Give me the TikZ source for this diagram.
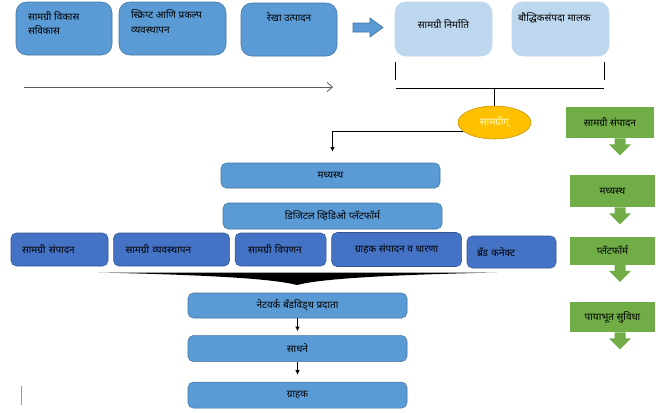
\documentclass[tikz,border=0pt]{standalone}
\usepackage{fontspec}
\setmainfont{Noto Sans}[Script=Devanagari]
\usetikzlibrary{arrows.meta, positioning, calc, shapes.geometric}
\definecolor{mediumblue}{HTML}{5B9BD5}
\definecolor{rowblue}{HTML}{4472C4}
\definecolor{paleblue}{HTML}{BDD7EE}
\definecolor{leafgreen}{HTML}{70AD47}
\definecolor{ambergold}{HTML}{FFC000}

\begin{document}
\begin{tikzpicture}[
    x=0.75pt, y=-0.75pt,
    tile/.style={
        draw=#1!75!black, fill=#1,
        rectangle, rounded corners=4pt,
        inner sep=0pt, align=center,
        font=\fontsize{7.5}{10}\selectfont,
    },
    dims/.style 2 args={minimum width=#1*0.75pt, minimum height=#2*0.75pt},
    note/.style={font=\fontsize{7.5}{11}\selectfont, align=left, inner sep=0pt},
    bar/.style={line width=1.1pt},
    link/.style={-{Latex[length=3.5pt,width=3.5pt]}, line width=0.9pt},
]
\useasboundingbox (0,0) rectangle (658,412);

% top row
\node[tile=mediumblue, dims={96}{53}, rounded corners=8pt,
    label={[note, anchor=north west, xshift=9pt, yshift=-7pt]north west:सामग्री विकास\\सविकास}] (vikas) at (64,28.5) {};
\node[tile=mediumblue, dims={107}{53}, rounded corners=8pt,
    label={[note, anchor=north west, xshift=9pt, yshift=-6pt]north west:स्क्रिप्ट आणि प्रकल्प\\व्यवस्थापन}] (script) at (172.5,28.5) {};
\node[tile=mediumblue, dims={96}{53}, rounded corners=8pt,
    label={[note, anchor=north, yshift=-7.5pt]north:रेखा उत्पादन}] (rekha) at (289,29.5) {};
\filldraw[fill=mediumblue, draw=mediumblue!75!black, line width=0.5pt]
    (353,23) -- (370,23) -- (370,18) -- (383,27.5) -- (370,37) -- (370,32) -- (353,32) -- cycle;
\node[tile=paleblue, draw=paleblue, dims={97}{54}, rounded corners=8pt,
    label={[note, anchor=north, yshift=-13pt]north:सामग्री निर्माति}] (nirm) at (443.5,29) {};
\node[tile=paleblue, draw=paleblue, dims={97}{54}, rounded corners=8pt,
    label={[note, anchor=north west, xshift=4.5pt, yshift=-8pt]north west:बौद्धिकसंपदा मालक}] (ipr) at (560.5,29) {};

% timeline
\coordinate (tl-start) at (24,87);
\coordinate (tl-end) at (333,87);
\draw[black!65, line width=0.6pt, -{Straight Barb[length=4pt,width=7pt]}] (tl-start) -- (tl-end);

% bracket
\draw[bar] ($(nirm.south west)+(1,6)$) coordinate (bl) -- ++(0,18);
\draw[bar] ($(ipr.south east)+(-5,6)$) coordinate (br) -- ++(0,18);
\draw[bar] ($(bl)+(0,26)$) coordinate (hl) -- ($(br)+(0,26)$);

\node[ellipse, fill=ambergold, draw=ambergold!75!black, dims={73}{33}, inner sep=0pt,
    font=\fontsize{7.5}{10}\selectfont, text=white!85!yellow] (samg) at (494.5,122.5) {सामग्रीग्};
\draw[bar] (samg.north) -- (samg.north |- hl);

% middle
\node[tile=mediumblue, dims={219}{25}] (madh) at (330.5,175.5) {मध्यस्थ};
\node[tile=mediumblue, dims={219}{26}] (dvp) at (332.5,216) {डिजिटल व्हिडिओ प्लॅटफॉर्म};
\draw[link] (samg.196) -| ($(madh.north)+(2,-11)$);

% row
\node[tile=rowblue, dims={97}{33}, text width=56.25pt, align=left] (ed1) at (59.5,249.5) {सामग्री संपादन};
\node[tile=rowblue, dims={116}{33}, text width=69pt, align=left, right=3.75pt of ed1] (ed2) {सामग्री व्यवस्थापन};
\node[tile=rowblue, dims={91}{33}, text width=48.75pt, align=left, right=3.75pt of ed2] (ed3) {सामग्री विपणन};
\node[tile=rowblue, dims={130}{34}, right=3.75pt of ed3] (ed4) {ग्राहक संपादन व धारणा};
\node[tile=rowblue, dims={89}{32}, text width=51.75pt, align=left] (ed5) at (511.5,252) {ब्रँड कनेक्ट};

\fill (98,272.5) -- (497,272.5) .. controls (380,275) and (320,279) .. (297,285)
    .. controls (274,279) and (214,275) .. (98,272.5) -- cycle;

% lower column
\node[tile=mediumblue, dims={219}{25}] (nbp) at (297.5,305.5) {नेटवर्क बँडविड्थ प्रदाता};
\node[tile=mediumblue, dims={219}{26}, below=12.75pt of nbp] (sadh) {साधने};
\node[tile=mediumblue, dims={219}{26}, below=15pt of sadh] (grahak) {ग्राहक};
\draw[link] (nbp.south) -- ($(sadh.north)+(0,-4)$);
\draw[link] (sadh.south) -- ($(grahak.north)+(0,-7)$);
\draw[black!40, line width=0.6pt] (21,386) -- (21,405);

% right column
\node[tile=leafgreen, draw=none, rounded corners=0pt, dims={88}{31}] (g1) at (610,122.5) {सामग्री संपादन};
\node[tile=leafgreen, draw=none, rounded corners=0pt, dims={85}{32}] (g2) at (612.5,191) {मध्यस्थ};
\node[tile=leafgreen, draw=none, rounded corners=0pt, dims={85}{28}] (g3) at (612.5,250.5) {प्लॅटफॉर्म};
\node[tile=leafgreen, draw=none, rounded corners=0pt, dims={85}{30}] (g4) at (612.5,317) {पायाभूत सुविधा};
\foreach \g in {g1,g2,g3,g4}
    \fill[leafgreen] (\g.south -| 620,0) ++(-5.5,0) -- ++(11,0) -- ++(0,6) -- ++(5.5,0)
        -- ++(-11,11) -- ++(-11,-11) -- ++(5.5,0) -- cycle;

\end{tikzpicture}
\end{document}
